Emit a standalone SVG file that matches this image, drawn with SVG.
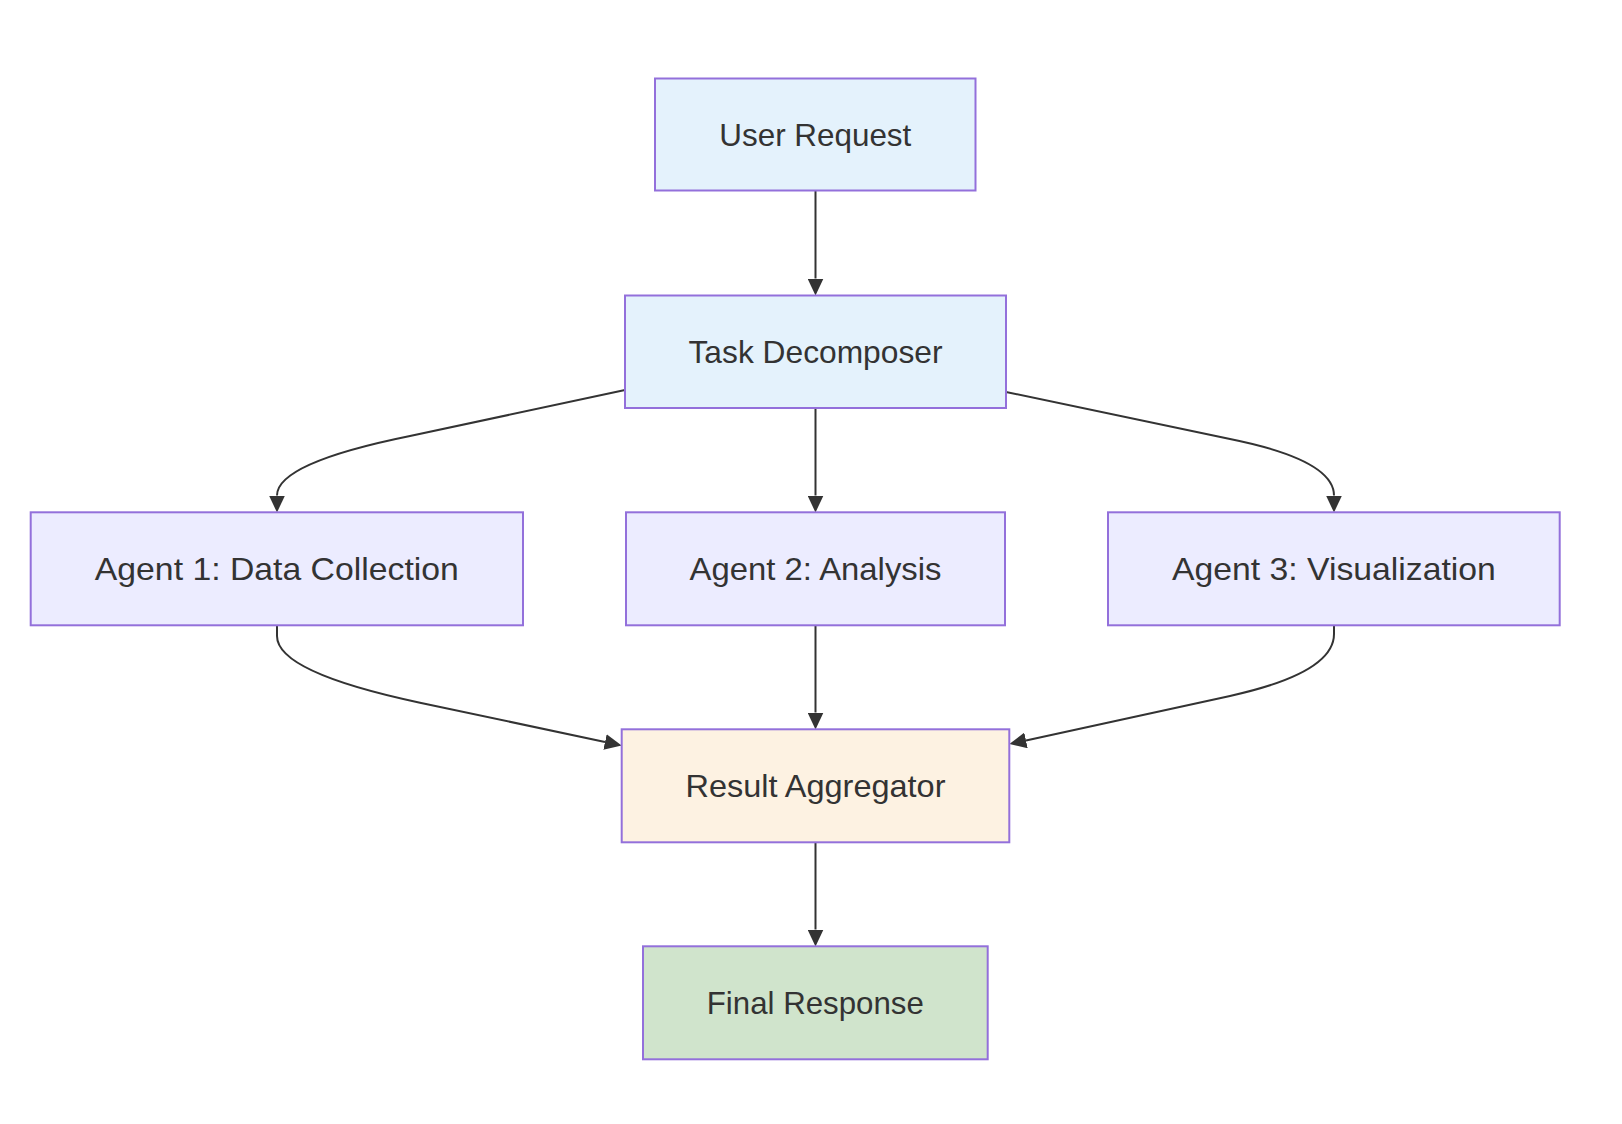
<svg xmlns="http://www.w3.org/2000/svg" width="1622" height="1124" viewBox="0 0 1622 1124">
<style>
.node rect{stroke:#9370db;stroke-width:2}
.node text{font-family:"Liberation Sans",Arial,sans-serif;font-size:31.5px;fill:#333;text-anchor:middle}
.edge{fill:none;stroke:#333;stroke-width:2}
.blue{fill:#e4f2fc}
.lav{fill:#ececff}
.peach{fill:#fdf2e2}
.green{fill:#d0e4cc}
</style>
<defs>
<marker id="arr" markerUnits="userSpaceOnUse" markerWidth="17" markerHeight="16" refX="0" refY="8" orient="auto" viewBox="0 0 17 16">
<path d="M0,0 L17,8 L0,16 z" fill="#333"/>
</marker>
</defs>
<rect width="1622" height="1124" fill="#fff"/>
<g id="connectors">
<path class="edge" marker-end="url(#arr)" d="M815.5,191 L815.5,278.5"/>
<path class="edge" marker-end="url(#arr)" d="M625,390 L410,436 Q277,463 277,495.5"/>
<path class="edge" marker-end="url(#arr)" d="M815.5,408 L815.5,495.5"/>
<path class="edge" marker-end="url(#arr)" d="M1006,392 L1230,439 Q1334,460 1334,495.5"/>
<path class="edge" marker-end="url(#arr)" d="M277,626 L277,636 Q277,672.3 420,702.7 L605,742"/>
<path class="edge" marker-end="url(#arr)" d="M815.5,626 L815.5,712.5"/>
<path class="edge" marker-end="url(#arr)" d="M1334,626 L1334,634 Q1334,673 1230,695.9 L1026,740.4"/>
<path class="edge" marker-end="url(#arr)" d="M815.5,843 L815.5,929.5"/>
</g>
<g id="user-request" class="node"><rect class="blue" x="655" y="78.5" width="320.5" height="112"/><text x="815.3" y="146" textLength="192" lengthAdjust="spacingAndGlyphs">User Request</text></g>
<g id="task-decomposer" class="node"><rect class="blue" x="625" y="295.5" width="381" height="112.5"/><text x="815.5" y="363" textLength="254" lengthAdjust="spacingAndGlyphs">Task Decomposer</text></g>
<g id="agent-1" class="node"><rect class="lav" x="30.7" y="512.3" width="492.3" height="113"/><text x="276.8" y="580" textLength="364" lengthAdjust="spacingAndGlyphs">Agent 1: Data Collection</text></g>
<g id="agent-2" class="node"><rect class="lav" x="626" y="512.3" width="379" height="113"/><text x="815.5" y="580" textLength="252" lengthAdjust="spacingAndGlyphs">Agent 2: Analysis</text></g>
<g id="agent-3" class="node"><rect class="lav" x="1108" y="512.3" width="451.7" height="113"/><text x="1333.9" y="580" textLength="324" lengthAdjust="spacingAndGlyphs">Agent 3: Visualization</text></g>
<g id="result-aggregator" class="node"><rect class="peach" x="621.7" y="729.3" width="387.6" height="113"/><text x="815.5" y="797" textLength="260" lengthAdjust="spacingAndGlyphs">Result Aggregator</text></g>
<g id="final-response" class="node"><rect class="green" x="643" y="946.3" width="344.7" height="113"/><text x="815.3" y="1014" textLength="217" lengthAdjust="spacingAndGlyphs">Final Response</text></g>
</svg>
